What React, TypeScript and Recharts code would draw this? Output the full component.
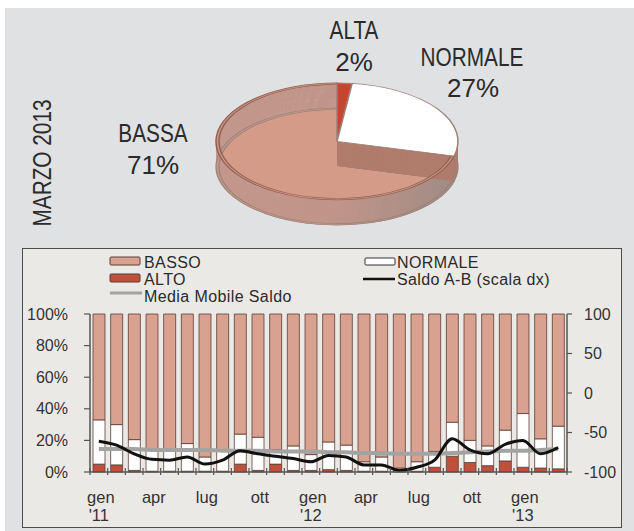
import React from 'react';
import { PieChart, Pie, Cell, ComposedChart, Bar, Line, XAxis, YAxis } from 'recharts';

// marzo 2013: quota per livello
const pieNames = ['ALTA', 'NORMALE', 'BASSA'];
const pieValues = [2, 27, 71];

// serie mensili gen '11 - mar '13
const months = [
  'gen', 'feb', 'mar', 'apr', 'mag', 'giu', 'lug', 'ago', 'set', 'ott', 'nov', 'dic',
  'gen', 'feb', 'mar', 'apr', 'mag', 'giu', 'lug', 'ago', 'set', 'ott', 'nov', 'dic',
  'gen', 'feb', 'mar',
];
const years = ["'11", '', '', '', '', '', '', '', '', '', '', '', "'12", '', '', '', '', '', '', '', '', '', '', '', "'13", '', ''];
const shownMonths = ['gen', 'apr', 'lug', 'ott'];

const alto = [5, 4.5, 1, 0.5, 0.5, 0.5, 0.5, 0.5, 5, 1, 5, 1, 1, 1.5, 1, 0.5, 0.5, 0, 0.5, 3, 10, 6, 4, 7, 3, 2.5, 2];
const normale = [28, 25.5, 19.5, 13.5, 13.5, 17.5, 9, 13.5, 19, 21, 9, 15.5, 10, 17.5, 16, 6, 9, 2.5, 6, 10, 21.5, 14, 12.5, 19.5, 34, 18.5, 27];
const basso = [67, 70, 79.5, 86, 86, 82, 90.5, 86, 76, 78, 86, 83.5, 89, 81, 83, 93.5, 90.5, 97.5, 93.5, 87, 68.5, 80, 83.5, 73.5, 63, 79, 71];
const saldo = [-61, -66, -77, -84, -85, -81, -90, -85, -73, -77, -80, -83, -87, -79, -81, -91, -91, -98, -94, -85, -58, -72, -77, -65, -60, -77, -69];
const mediaMobile = [-71, -71, -71, -72, -72, -72, -72, -73, -73, -73, -74, -74, -74, -75, -75, -76, -76, -77, -77, -77, -76, -75, -74, -73, -73, -72, -71];

const leftTicks = [0, 20, 40, 60, 80, 100];
const rightTicks = [-100, -50, 0, 50, 100];

const pieData = pieNames.map((name, i) => ({ name, value: pieValues[i] }));
const barData = months.map((m, i) => ({
  i,
  alto: alto[i],
  normale: normale[i],
  basso: basso[i],
  saldo: saldo[i],
  media: mediaMobile[i],
}));

const SALMON = '#d9a18f';
const RED = '#c1503b';
const OUTLINE = '#5e3e35';
const FONT = "'Liberation Sans', Arial, sans-serif";

// pseudo 3D pie: circle squashed with scaleY, side built from stacked layers
const SIZE = 330;
const R = 121;
const CX = 165;
const CY = 125;
const DEPTH = 52;
const SQUASH = 0.4835;

const sideLayers: number[] = [];
for (let d = DEPTH; d > 0; d -= 2) sideLayers.push(d);

const topColors: Record<string, string> = { ALTA: '#c9432e', NORMALE: '#ffffff', BASSA: '#d49b88' };
const sideColors: Record<string, string> = { ALTA: '#a8392a', NORMALE: '#b07c6c', BASSA: 'url(#bassaSide)' };

const Pie3D = () => (
  <div style={{ position: 'absolute', left: 337 - CX, top: 83 - (CY - R) * SQUASH, transform: `scaleY(${SQUASH})`, transformOrigin: '0 0' }}>
    <PieChart width={SIZE} height={SIZE} margin={{ top: 0, right: 0, bottom: 0, left: 0 }}>
      {/* floor of BASSA */}
      <Pie data={pieData} dataKey="value" cx={CX} cy={CY + DEPTH} outerRadius={R} startAngle={90} endAngle={-270}
        stroke="none" isAnimationActive={false}>
        {pieData.map((d) => (
          <Cell key={d.name} fill={d.name === 'BASSA' ? topColors.BASSA : 'none'} />
        ))}
      </Pie>
      {sideLayers.map((d) => (
        <Pie key={`r${d}`} data={pieData} dataKey="value" cx={CX} cy={CY + d} innerRadius={R - 3} outerRadius={R}
          startAngle={90} endAngle={-270} stroke="none" isAnimationActive={false}>
          {pieData.map((p) => (
            <Cell key={p.name} fill={p.name === 'BASSA' ? sideColors.BASSA : 'none'} />
          ))}
        </Pie>
      ))}
      {sideLayers.map((d) => (
        <Pie key={`s${d}`} data={pieData} dataKey="value" cx={CX} cy={CY + d} outerRadius={R}
          startAngle={90} endAngle={-270} stroke="none" isAnimationActive={false}>
          {pieData.map((p) => (
            <Cell key={p.name} fill={p.name === 'BASSA' ? 'none' : sideColors[p.name]} />
          ))}
        </Pie>
      ))}
      {/* bottom outline */}
      <Pie data={pieData} dataKey="value" cx={CX} cy={CY + DEPTH} innerRadius={R - 3} outerRadius={R}
        startAngle={90} endAngle={-270} isAnimationActive={false}>
        {pieData.map((p) => (
          <Cell key={p.name} fill={sideColors[p.name]} stroke="#9a8078" strokeWidth={1.2} />
        ))}
      </Pie>
      {/* rim of BASSA */}
      <Pie data={pieData} dataKey="value" cx={CX} cy={CY} innerRadius={R - 3} outerRadius={R}
        startAngle={90} endAngle={-270} isAnimationActive={false}>
        {pieData.map((p) => (
          <Cell key={p.name} fill={p.name === 'BASSA' ? '#cf9583' : 'none'} stroke={p.name === 'BASSA' ? '#8f6255' : 'none'} strokeWidth={1.5} />
        ))}
      </Pie>
      {/* top faces */}
      <Pie data={pieData} dataKey="value" cx={CX} cy={CY} outerRadius={R} startAngle={90} endAngle={-270}
        isAnimationActive={false}>
        {pieData.map((p) => (
          <Cell key={p.name} fill={p.name === 'BASSA' ? 'none' : topColors[p.name]}
            stroke={p.name === 'BASSA' ? 'none' : '#9d8078'} strokeWidth={1.5} />
        ))}
      </Pie>
    </PieChart>
  </div>
);

const MonthTick = (props: any) => {
  const { x, y, payload } = props;
  const i = Number(payload.value);
  const half = payload.offset ?? 0;
  const m = months[i];
  return (
    <g>
      <line x1={x - half} x2={x - half} y1={y - 4} y2={y + 3} stroke="#555" strokeWidth={1.2} />
      {i === months.length - 1 && (
        <line x1={x + half} x2={x + half} y1={y - 4} y2={y + 3} stroke="#555" strokeWidth={1.2} />
      )}
      {shownMonths.includes(m) && i % 3 === 0 && (
        <text x={x + 2} y={y + 31} textAnchor="middle" fontSize={16.5} fill="#333" fontFamily={FONT}>
          {m}
        </text>
      )}
      {years[i] && (
        <text x={x} y={y + 49} textAnchor="middle" fontSize={16.5} fill="#333" fontFamily={FONT}>
          {years[i]}
        </text>
      )}
    </g>
  );
};

const Legend = () => (
  <g fontFamily={FONT} fontSize={16} fill="#2a2a2a" letterSpacing={0.4}>
    <rect x={110} y={257} width={30} height={8} fill={SALMON} stroke={OUTLINE} strokeWidth={1} rx={1} />
    <text x={144} y={268}>BASSO</text>
    <rect x={110} y={274} width={30} height={8} fill={RED} stroke={OUTLINE} strokeWidth={1} rx={1} />
    <text x={144} y={285}>ALTO</text>
    <line x1={110} x2={142} y1={293} y2={293} stroke="#a3a3a3" strokeWidth={3} />
    <text x={144} y={302}>Media Mobile Saldo</text>
    <rect x={365} y={258} width={30} height={7} fill="#ffffff" stroke="#333" strokeWidth={1} rx={1} />
    <text x={397} y={268}>NORMALE</text>
    <line x1={363} x2={395} y1={279} y2={279} stroke="#111" strokeWidth={2.5} />
    <text x={397} y={285}>Saldo A-B (scala dx)</text>
  </g>
);

// condensed label: regular face squeezed horizontally
const Narrow = ({ x, y, children, rotate = 0 }: { x: number; y: number; children: React.ReactNode; rotate?: number }) => (
  <text x={0} y={0} fontSize={26} fontFamily={FONT} textAnchor="middle"
    transform={`translate(${x},${y}) rotate(${rotate}) scale(0.8,1)`}>
    {children}
  </text>
);

const App: React.FC = () => {
  return (
    <div style={{ position: 'absolute', left: 0, top: 0, width: 634, height: 531, background: '#ffffff', overflow: 'hidden' }}>
      <svg width={0} height={0} style={{ position: 'absolute' }}>
        <defs>
          <linearGradient id="bassaSide" x1="0" y1="0" x2="1" y2="0">
            <stop offset="0%" stopColor="#c3978b" />
            <stop offset="50%" stopColor="#c09488" />
            <stop offset="100%" stopColor="#a08c86" />
          </linearGradient>
        </defs>
      </svg>
      <div style={{ position: 'absolute', left: 5, top: 8, width: 629, height: 523, background: '#e0e1e3' }} />
      <Pie3D />
      <div style={{ position: 'absolute', left: 22, top: 248, width: 600, height: 280, boxSizing: 'border-box', border: '1px solid #4d4d4d', background: '#ebe9e6' }} />
      <div style={{ position: 'absolute', left: 22, top: 248 }}>
        <ComposedChart width={600} height={280} data={barData} margin={{ top: 66, right: 0, bottom: 0, left: 0 }} barSize={12}>
          <XAxis dataKey="i" type="category" height={56} interval={0} tickLine={false} tickSize={0} tickMargin={0}
            axisLine={{ stroke: '#555', strokeWidth: 1.5 }} tick={<MonthTick />} />
          <YAxis yAxisId="left" domain={[0, 100]} ticks={leftTicks} width={68} tickSize={6} tickMargin={16}
            tickFormatter={(v: number) => `${v}%`} axisLine={{ stroke: '#555', strokeWidth: 1.5 }}
            tickLine={{ stroke: '#555', strokeWidth: 1.2 }} tick={{ fontSize: 16, fill: '#333', fontFamily: FONT }} />
          <YAxis yAxisId="right" orientation="right" domain={[-100, 100]} ticks={rightTicks} width={55} tickSize={5}
            tickMargin={12} axisLine={{ stroke: '#555', strokeWidth: 1.5 }} tickLine={{ stroke: '#555', strokeWidth: 1.2 }}
            tick={{ fontSize: 16, fill: '#333', fontFamily: FONT, textAnchor: 'start' }} />
          <Bar yAxisId="left" dataKey="alto" stackId="s" fill={RED} stroke={OUTLINE} strokeWidth={0.8} isAnimationActive={false} />
          <Bar yAxisId="left" dataKey="normale" stackId="s" fill="#ffffff" stroke={OUTLINE} strokeWidth={0.8} isAnimationActive={false} />
          <Bar yAxisId="left" dataKey="basso" stackId="s" fill={SALMON} stroke={OUTLINE} strokeWidth={0.8} isAnimationActive={false} />
          <Line yAxisId="right" dataKey="media" type="monotone" stroke="#a3a3a3" strokeWidth={4} dot={false} isAnimationActive={false} />
          <Line yAxisId="right" dataKey="saldo" type="monotone" stroke="#111" strokeWidth={3} dot={false} isAnimationActive={false} />
        </ComposedChart>
      </div>
      <svg width={634} height={531} style={{ position: 'absolute', left: 0, top: 0, pointerEvents: 'none' }}>
        <g fill="#2b2b2b">
          <Narrow x={354} y={39}>ALTA</Narrow>
          <text x={354} y={71} fontSize={26} fontFamily={FONT} textAnchor="middle">2%</text>
          <Narrow x={472} y={66}>NORMALE</Narrow>
          <text x={473} y={97} fontSize={26} fontFamily={FONT} textAnchor="middle">27%</text>
          <Narrow x={153} y={142}>BASSA</Narrow>
          <text x={153} y={174} fontSize={26} fontFamily={FONT} textAnchor="middle">71%</text>
          <Narrow x={51} y={163} rotate={-90}>MARZO 2013</Narrow>
        </g>
        <Legend />
      </svg>
    </div>
  );
};

export default App;
